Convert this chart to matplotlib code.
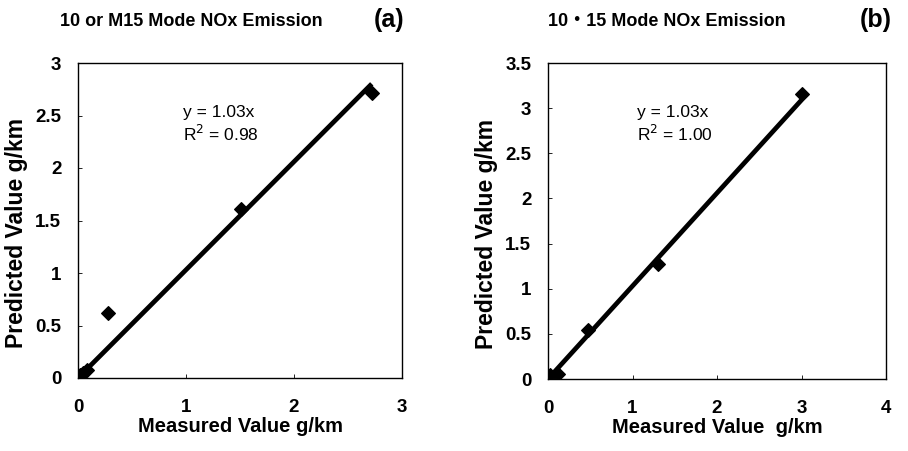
import numpy as np
import matplotlib.pyplot as plt

plt.rcParams['font.family'] = ['Liberation Sans', 'DejaVu Sans']

# ============================================================
# DATA
# ============================================================

# (a) 10 or M15 mode
meas_a = [0.02, 0.05, 0.08, 0.28, 1.51, 2.72]
pred_a = [0.03, 0.05, 0.08, 0.62, 1.61, 2.71]
slope_a = 1.03
r2_a = 0.98

# (b) 10-15 mode
meas_b = [0.02, 0.12, 0.47, 1.30, 3.00]
pred_b = [0.04, 0.06, 0.54, 1.27, 3.16]
slope_b = 1.03
r2_b = 1.00

titles = ["10 or M15 Mode NOx Emission", "10\u30fb15 Mode NOx Emission"]
tags = ["(a)", "(b)"]
xlabels = ["Measured Value g/km", "Measured Value  g/km"]
ylabel = "Predicted Value g/km"

# ============================================================
# PLOT
# ============================================================

fig = plt.figure(figsize=(9.08, 4.51), dpi=100)

W, H = 908, 451


def px_axes(left, top, right, bottom):
    return fig.add_axes([left / W, 1 - bottom / H, (right - left) / W, (bottom - top) / H])


ax_a = px_axes(78, 63, 402, 378)
ax_b = px_axes(548, 63, 886, 379)

panels = [
    (ax_a, meas_a, pred_a, slope_a, r2_a, 3, 3, 1, 0.5, -0.154, 0.324),
    (ax_b, meas_b, pred_b, slope_b, r2_b, 4, 3.5, 1, 0.5, -0.148, 0.263),
]

for i, (ax, mx, py, k, r2, xmax, ymax, xstep, ystep, ylab_x, eq_x) in enumerate(panels):

    # trend line through origin
    xl = np.array([0, max(mx)])
    ax.plot(xl, k * xl, color='black', linewidth=3.4, solid_capstyle='butt', zorder=2)

    ax.scatter(mx, py, marker='D', s=48, color='black', zorder=3)

    ax.set_xlim(0, xmax)
    ax.set_ylim(0, ymax)
    xt = np.arange(0, xmax + 0.01, xstep)
    yt = np.arange(0, ymax + 0.01, ystep)
    ax.set_xticks(xt)
    ax.set_yticks(yt)
    ax.set_xticklabels([f"{v:g}" for v in xt])
    ax.set_yticklabels([f"{v:g}" for v in yt])

    ax.tick_params(direction='in', length=3, width=0.6, labelsize=13.5,
                   top=False, right=False)
    ax.tick_params(axis='x', pad=15)
    ax.tick_params(axis='y', pad=12)
    for lab in ax.get_xticklabels() + ax.get_yticklabels():
        lab.set_fontweight('bold')

    for sp in ax.spines.values():
        sp.set_linewidth(1.0)

    ax.set_xlabel(xlabels[i], fontsize=14.5, fontweight='bold', labelpad=1)
    ax.set_ylabel(ylabel, fontsize=16.5, fontweight='bold')
    ax.yaxis.set_label_coords(ylab_x, 0.46)

    ax.text(eq_x, 0.805, f"y = {k:.2f}x\nR$^2$ = {r2:.2f}", transform=ax.transAxes,
            fontsize=12.5, ha='left', va='center', linespacing=1.25)

fig.text(60 / W, 1 - 21 / H, titles[0], fontsize=13, fontweight='bold', va='center', ha='left')
fig.text(374 / W, 1 - 20 / H, tags[0], fontsize=18, fontweight='bold', va='center', ha='left')
fig.text(548 / W, 1 - 21 / H, titles[1], fontsize=13, fontweight='bold', va='center', ha='left',
         family=['Liberation Sans', 'Noto Sans CJK JP'])
fig.text(860 / W, 1 - 20 / H, tags[1], fontsize=18, fontweight='bold', va='center', ha='left')

fig.savefig("out.png", dpi=100)
